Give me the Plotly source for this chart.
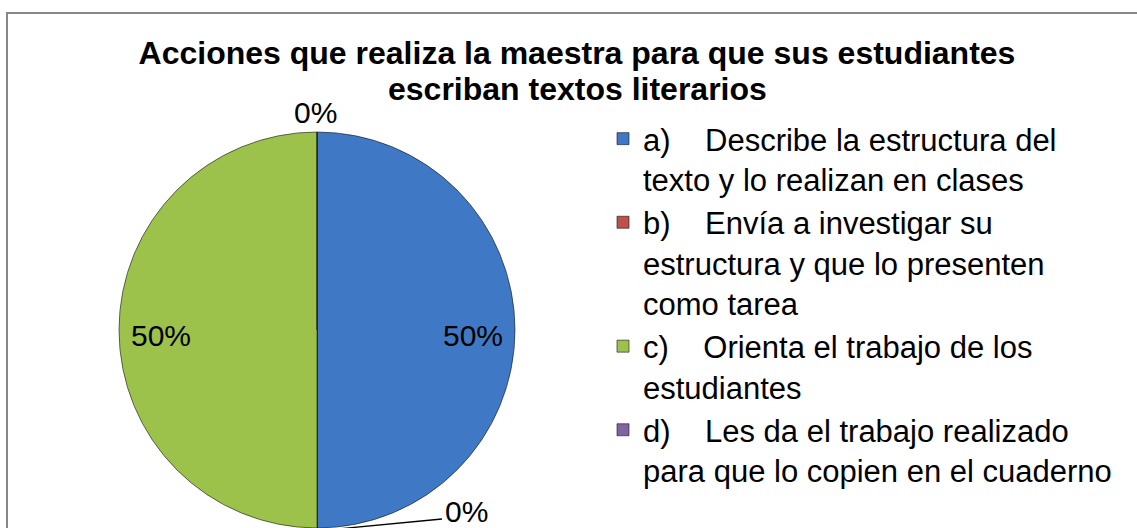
import plotly.graph_objects as go
import numpy as np

# ---- data ----
categories = [
    "a)\u00a0\u00a0\u00a0\u00a0Describe la estructura del<br>texto y lo realizan en clases",
    "b)\u00a0\u00a0\u00a0\u00a0Envía a investigar su<br>estructura y que lo presenten<br>como tarea",
    "c)\u00a0\u00a0\u00a0\u00a0Orienta el trabajo de los<br>estudiantes",
    "d)\u00a0\u00a0\u00a0\u00a0Les da el trabajo realizado<br>para que lo copien en el cuaderno",
]
values = [50, 0, 50, 0]
colors = ["#3F79C5", "#C0504D", "#9DC24C", "#8064A2"]
title_line1 = "Acciones que realiza la maestra para que sus estudiantes"
title_line2 = "escriban textos literarios"

W, H = 1137, 528
FONT = "Liberation Sans, Arial, sans-serif"


def px(x):
    return x / W


def py(y):
    return 1 - y / H


# pie geometry (pixels)
cx, cy, R = 317, 330, 198

fig = go.Figure()
fig.add_trace(go.Pie(
    labels=categories,
    values=values,
    sort=False,
    direction="clockwise",
    rotation=0,
    textinfo="none",
    hoverinfo="label+percent",
    marker=dict(colors=colors, line=dict(color="rgba(20,20,20,0.6)", width=1)),
    domain=dict(x=[px(cx - R), px(cx + R)], y=[0, py(cy - R)]),
    showlegend=True,
))

# percentage labels computed from data
total = sum(values)
cum = np.cumsum([0] + values[:-1])
pcts = [f"{v / total:.0%}" for v in values]
label_pos = []
for i, v in enumerate(values):
    theta = np.deg2rad(360 * (cum[i] + v / 2) / total)
    if v > 0:
        r = 0.79 * R
        label_pos.append((cx + r * np.sin(theta), cy - r * np.cos(theta) + 5))
    else:
        label_pos.append(None)

# zero slices: top one above pie, bottom one moved with leader line
label_pos[3] = (cx - 2, cy - R - 20)
label_pos[1] = (466, 511)

annotations = []
for i, p in enumerate(label_pos):
    annotations.append(dict(
        x=px(p[0]), y=py(p[1]), xref="paper", yref="paper",
        text=pcts[i], showarrow=False, xanchor="center", yanchor="middle",
        font=dict(family=FONT, size=30, color="black"),
    ))

# second title line
annotations.append(dict(
    x=px(577), y=py(89), xref="paper", yref="paper", text=title_line2,
    showarrow=False, xanchor="center", yanchor="middle",
    font=dict(family=FONT, size=32, color="black", weight="bold"),
))

shapes = [
    # chart frame
    dict(type="rect", xref="paper", yref="paper",
         x0=px(7), x1=px(W + 20), y0=py(13), y1=py(H + 20),
         line=dict(color="#878787", width=2), fillcolor="rgba(0,0,0,0)", layer="below"),
    # leader line for bottom 0%
    dict(type="line", xref="paper", yref="paper",
         x0=px(cx + 10), y0=py(cy + R + 2), x1=px(442), y1=py(519),
         line=dict(color="black", width=1.3)),
]

fig.update_layout(
    width=W, height=H,
    margin=dict(l=0, r=0, t=0, b=0),
    paper_bgcolor="white",
    plot_bgcolor="white",
    title=dict(text=title_line1, x=px(577), y=py(53), xanchor="center", yanchor="middle",
               xref="paper", yref="paper",
               font=dict(family=FONT, size=32, color="black", weight="bold")),
    legend=dict(x=px(603), y=py(112), xanchor="left", yanchor="top", valign="top",
                font=dict(family=FONT, size=31, color="black"),
                bgcolor="rgba(0,0,0,0)", traceorder="normal"),
    annotations=annotations,
    shapes=shapes,
)

fig.write_html("out.html", config={"displayModeBar": False},
               post_script="document.body.style.margin='0';document.body.style.overflow='hidden';")
